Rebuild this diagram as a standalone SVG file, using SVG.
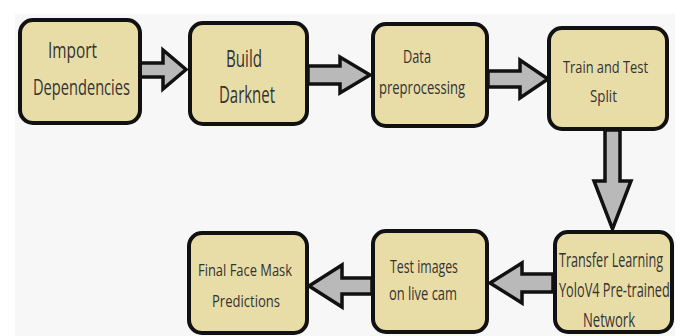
<svg xmlns="http://www.w3.org/2000/svg" width="680" height="336" viewBox="0 0 680 336">
<style>
.box{fill:#e9dda7;stroke:#111;stroke-width:4}
.arr{fill:#b9b9b9;stroke:#111;stroke-width:3.5;stroke-linejoin:miter}
text{font-family:"Open Sans","Noto Sans","Liberation Sans",sans-serif;fill:#333333}
</style>
<rect x="0" y="0" width="680" height="336" fill="#ffffff"/>
<rect x="15" y="14" width="660" height="322" fill="#f7f7f7"/>
<g id="connectors">
<polygon class="arr" points="140,63 163,63 163,50 186,69.5 163,89 163,77 140,77"/>
<polygon class="arr" points="308,66 340,66 340,57 370,75 340,93 340,84 308,84"/>
<polygon class="arr" points="488,71 520,71 520,60 548,79 520,98 520,87 488,87"/>
<polygon class="arr" points="605,130 605,181 594,181 612.5,229 631,181 620,181 620,130"/>
<polygon class="arr" points="553,274 522,274 522,263 490,283 522,303 522,292 553,292"/>
<polygon class="arr" points="372,278 342,278 342,265 309,286 342,307 342,294 372,294"/>
</g>
<g id="n1">
<rect class="box" x="20" y="20" width="120" height="103" rx="13"/>
<text x="48" y="58" font-size="22" textLength="49" lengthAdjust="spacingAndGlyphs">Import</text>
<text x="33" y="95" font-size="22" textLength="97" lengthAdjust="spacingAndGlyphs">Dependencies</text>
</g>
<g id="n2">
<rect class="box" x="190" y="23" width="117" height="101" rx="13"/>
<text x="226" y="67" font-size="23" textLength="36" lengthAdjust="spacingAndGlyphs">Build</text>
<text x="219" y="103" font-size="23" textLength="56" lengthAdjust="spacingAndGlyphs">Darknet</text>
</g>
<g id="n3">
<rect class="box" x="373" y="24" width="114" height="102" rx="13"/>
<text x="403" y="63" font-size="18" textLength="28" lengthAdjust="spacingAndGlyphs">Data</text>
<text x="379" y="94" font-size="18" textLength="86" lengthAdjust="spacingAndGlyphs">preprocessing</text>
</g>
<g id="n4">
<rect class="box" x="549" y="28" width="118" height="101" rx="13"/>
<text x="563" y="73" font-size="17" textLength="85" lengthAdjust="spacingAndGlyphs">Train and Test</text>
<text x="590" y="102" font-size="17" textLength="27" lengthAdjust="spacingAndGlyphs">Split</text>
</g>
<g id="n5">
<rect class="box" x="555" y="232" width="117" height="100" rx="13"/>
<text transform="translate(559,267) scale(0.65,1)" x="0" y="0" font-size="20" textLength="160" lengthAdjust="spacingAndGlyphs">Transfer Learning</text>
<text transform="translate(559,297) scale(0.64,1)" x="0" y="0" font-size="20" textLength="173" lengthAdjust="spacingAndGlyphs">YoloV4 Pre-trained</text>
<text x="583" y="327" font-size="20" textLength="52" lengthAdjust="spacingAndGlyphs">Network</text>
</g>
<g id="n6">
<rect class="box" x="373" y="231" width="114" height="101" rx="13"/>
<text x="390" y="273" font-size="18" textLength="68" lengthAdjust="spacingAndGlyphs">Test images</text>
<text x="389" y="300" font-size="18" textLength="68" lengthAdjust="spacingAndGlyphs">on live cam</text>
</g>
<g id="n7">
<rect class="box" x="189" y="233" width="118" height="100" rx="13"/>
<text x="198" y="276" font-size="17" textLength="94" lengthAdjust="spacingAndGlyphs">Final Face Mask</text>
<text x="212" y="307" font-size="17" textLength="68" lengthAdjust="spacingAndGlyphs">Predictions</text>
</g>
</svg>
